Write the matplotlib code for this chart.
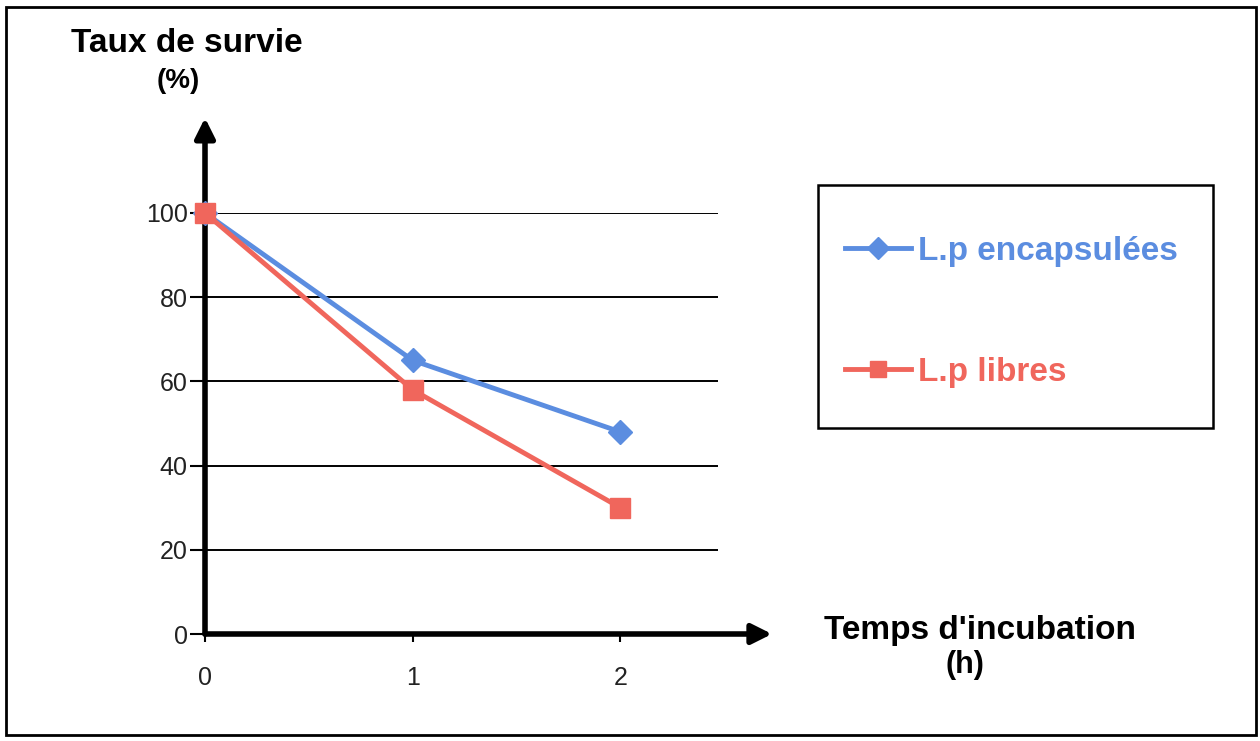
import matplotlib.pyplot as plt
from matplotlib.patches import Rectangle

# survival rate over incubation time
hours = [0, 1, 2]
encapsulees = [100, 65, 48]
libres = [100, 58, 30]
y_ticks = [0, 20, 40, 60, 80, 100]

blue = '#5B8DE0'
red = '#F0665C'

plt.rcParams['font.family'] = ['Liberation Sans', 'DejaVu Sans']

fig = plt.figure(figsize=(12.6, 7.41), dpi=100)
W, H = 1260, 741
# axes placed so that x=0..2.47 and y=0..100 land where the plot area is
ax = fig.add_axes([205 / W, (H - 634) / H, (718 - 205) / W, (634 - 213) / H])
ax.set_xlim(0, 2.47)
ax.set_ylim(0, 100)

for s in ax.spines.values():
    s.set_visible(False)

ax.set_yticks(y_ticks)
ax.set_xticks(hours)
ax.grid(axis='y', color='black', lw=1.4)
ax.tick_params(axis='y', length=11, width=1.5, pad=1.5, labelsize=18, labelcolor='#222222')
ax.tick_params(axis='x', length=6, width=1.5, pad=17, labelsize=18, labelcolor='#222222')

# axis arrows
arrow = dict(arrowstyle='-|>', lw=4, color='black', mutation_scale=30, shrinkA=0, shrinkB=0)
ax.annotate('', xy=(2.73, 0), xytext=(0, 0), annotation_clip=False, arrowprops=arrow)
ax.annotate('', xy=(0, 122.6), xytext=(0, 0), annotation_clip=False, arrowprops=arrow)

l1, = ax.plot(hours, encapsulees, color=blue, lw=3.5, marker='D', markersize=12, clip_on=False, zorder=5)
l2, = ax.plot(hours, libres, color=red, lw=3.5, marker='s', markersize=14, clip_on=False, zorder=6)

# axis titles
fig.text(187 / W, 1 - 44 / H, 'Taux de survie', ha='center', va='center', fontsize=24, fontweight='bold')
fig.text(178 / W, 1 - 81 / H, '(%)', ha='center', va='center', fontsize=20, fontweight='bold')
fig.text(980 / W, 1 - 631 / H, "Temps d'incubation", ha='center', va='center', fontsize=24,
         fontweight='bold')
fig.text(965 / W, 1 - 665 / H, '(h)', ha='center', va='center', fontsize=22, fontweight='bold')

# legend box
fig.patches.append(Rectangle((818 / W, 1 - 428 / H), (1213 - 818) / W, (428 - 185) / H,
                             transform=fig.transFigure, fill=False, edgecolor='black', lw=1.8))
leg = fig.legend([l1, l2], ['L.p encapsulées', 'L.p libres'], loc='upper left',
                 bbox_to_anchor=(828 / W, 1 - 219 / H), frameon=False,
                 handlelength=2.0, handletextpad=0.2, labelspacing=2.7, borderpad=0,
                 labelcolor='linecolor', prop={'weight': 'bold', 'size': 24})
leg.legend_handles[0].set_markersize(11)
leg.legend_handles[1].set_markersize(12)

# outer frame
fig.patches.append(Rectangle((6 / W, 6 / H), (1256 - 6) / W, (734 - 6) / H,
                             transform=fig.transFigure, fill=False, edgecolor='black', lw=2))

fig.savefig('out.png', dpi=100)
